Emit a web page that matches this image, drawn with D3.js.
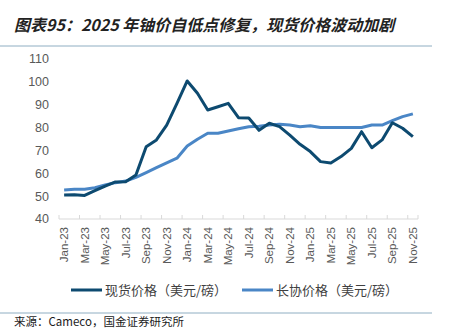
<!DOCTYPE html>
<html><head><meta charset="utf-8">
<script src="https://cdn.jsdelivr.net/npm/d3@7/dist/d3.min.js"></script>
<style>
html,body{margin:0;padding:0;background:#fff;}
svg{display:block;font-family:"Liberation Sans","Noto Sans CJK SC",sans-serif;}
</style></head>
<body>
<svg id="c" width="449" height="330"></svg>
<script>
const title = "图表95：2025 年铀价自低点修复，现货价格波动加剧";
const source = "来源：Cameco，国金证券研究所";
const months = ["Jan-23","Feb-23","Mar-23","Apr-23","May-23","Jun-23","Jul-23","Aug-23","Sep-23","Oct-23","Nov-23","Dec-23",
"Jan-24","Feb-24","Mar-24","Apr-24","May-24","Jun-24","Jul-24","Aug-24","Sep-24","Oct-24","Nov-24","Dec-24",
"Jan-25","Feb-25","Mar-25","Apr-25","May-25","Jun-25","Jul-25","Aug-25","Sep-25","Oct-25","Nov-25"];
const spot = [50.5,50.6,50.3,52.4,54.4,56.2,56.3,59.2,71.6,74.6,81.1,90.6,
100.4,95.0,87.7,89.1,90.6,84.3,84.2,78.8,81.9,80.4,76.7,72.7,
69.5,65.1,64.5,67.3,70.9,78.2,71.2,74.6,82.1,79.7,76.0];
const longTerm = [52.7,53.0,53.0,53.7,54.9,55.9,56.6,58.2,60.3,62.5,64.6,66.6,
71.9,74.9,77.5,77.5,78.5,79.5,80.4,80.6,81.1,81.4,81.1,80.4,
80.8,80.0,80.0,80.0,80.0,80.0,81.1,81.1,83.0,84.8,86.0];
const yTicks = [40,50,60,70,80,90,100,110];
const seriesNames = ["现货价格（美元/磅）","长协价格（美元/磅）"];
const colors = ["#0d4a70","#4a86c6"];

const svg = d3.select("#c");
const L = 59, R = 418, T = 59, B = 219;

// title
svg.append("text").attr("x",14).attr("y",31)
  .attr("font-family","'Noto Sans CJK SC',sans-serif")
  .attr("font-size",16).attr("font-style","italic").attr("font-weight","bold")
  .attr("fill","#222").text(title);
svg.append("line").attr("x1",0).attr("x2",432).attr("y1",46).attr("y2",46)
  .attr("stroke","#8faec2").attr("stroke-width",1);

const x = d3.scaleBand().domain(months).range([L,R]).padding(0);
const y = d3.scaleLinear().domain([40,110]).range([B,T]);

// y axis labels
svg.append("g").selectAll("text").data(yTicks).join("text")
  .attr("x",49).attr("y",d=>y(d)).attr("dy","0.35em")
  .attr("text-anchor","end").attr("font-size",12.5).attr("fill","#595959")
  .text(d=>d);

// x axis
svg.append("line").attr("x1",L).attr("x2",R).attr("y1",B).attr("y2",B)
  .attr("stroke","#d9d9d9").attr("stroke-width",1);
const tickIdx = months.map((m,i)=>i).filter(i=>i%2===0);
svg.append("g").selectAll("line").data(tickIdx.concat([months.length])).join("line")
  .attr("x1",i=>i<months.length?x(months[i]):R).attr("x2",i=>i<months.length?x(months[i]):R)
  .attr("y1",B-4).attr("y2",B).attr("stroke","#d9d9d9");
svg.append("g").selectAll("text").data(tickIdx).join("text")
  .attr("transform",i=>`translate(${x(months[i])+x.bandwidth()/2},${B+8}) rotate(-90)`)
  .attr("dy","0.35em").attr("text-anchor","end").attr("font-size",11.5).attr("fill","#595959")
  .text(i=>months[i]);

// lines
const line = d3.line().x((d,i)=>x(months[i])+x.bandwidth()/2).y(d=>y(d));
[longTerm, spot].forEach((s,k)=>{
  svg.append("path").datum(s).attr("d",line).attr("fill","none")
    .attr("stroke", k===0?colors[1]:colors[0]).attr("stroke-width",3)
    .attr("stroke-linejoin","round");
});

// legend
const legX = [71,242];
seriesNames.forEach((n,k)=>{
  svg.append("line").attr("x1",legX[k]).attr("x2",legX[k]+31).attr("y1",290).attr("y2",290)
    .attr("stroke",colors[k]).attr("stroke-width",3);
  svg.append("text").attr("x",legX[k]+34).attr("y",290).attr("dy","0.35em")
    .attr("font-family","'Noto Sans CJK SC',sans-serif")
    .attr("font-size",13).attr("fill","#404040").text(n);
});

svg.append("line").attr("x1",0).attr("x2",432).attr("y1",313).attr("y2",313)
  .attr("stroke","#8faec2").attr("stroke-width",1);
svg.append("text").attr("x",14).attr("y",326)
  .attr("font-family","'Noto Sans CJK SC',sans-serif")
  .attr("font-size",11.5).attr("fill","#1a1a1a").text(source);
</script>
</body></html>
